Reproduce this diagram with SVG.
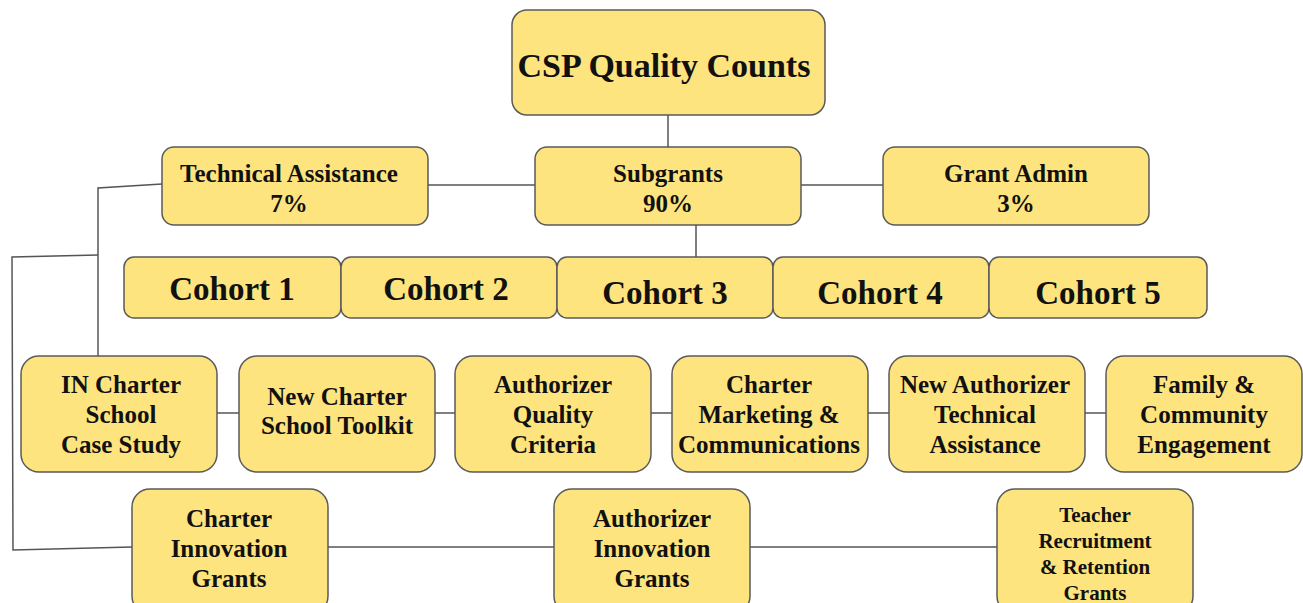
<svg xmlns="http://www.w3.org/2000/svg" width="1303" height="603" viewBox="0 0 1303 603">
  <style>
    .box { fill: #fde47f; stroke: #5a5a5a; stroke-width: 1.5; }
    .wire { fill: none; stroke: #555; stroke-width: 1.5; }
    text { font-family: "Liberation Serif", "DejaVu Serif", serif; font-weight: bold; fill: #111; text-anchor: middle; }
    .t1 { font-size: 34px; }
    .t2 { font-size: 25px; }
    .tc { font-size: 33px; }
    .t4 { font-size: 25px; }
    .t5 { font-size: 21px; }
  </style>
  <rect width="1303" height="603" fill="#ffffff"/>

  <!-- connectors -->
  <g id="connectors">
    <path class="wire" d="M668 115 V147"/>
    <path class="wire" d="M428 185 H535"/>
    <path class="wire" d="M801 185 H883"/>
    <path class="wire" d="M696 225 V257"/>
    <path class="wire" d="M162 184 L98 188 V356"/>
    <path class="wire" d="M98 255 L12 257 L13 550 L132 547"/>
    <path class="wire" d="M217 413 H239"/>
    <path class="wire" d="M435 413 H455"/>
    <path class="wire" d="M651 413 H672"/>
    <path class="wire" d="M868 413 H889"/>
    <path class="wire" d="M1085 413 H1106"/>
    <path class="wire" d="M328 547 H554"/>
    <path class="wire" d="M750 547 H997"/>
  </g>

  <g id="root">
    <rect class="box" x="512" y="10" width="313" height="105" rx="15"/>
    <text class="t1" x="664" y="77">CSP Quality Counts</text>
  </g>

  <g id="technical-assistance">
    <rect class="box" x="162" y="147" width="266" height="78" rx="12"/>
    <text class="t2" x="289" y="182">Technical Assistance</text>
    <text class="t2" x="289" y="212">7%</text>
  </g>
  <g id="subgrants">
    <rect class="box" x="535" y="147" width="266" height="78" rx="12"/>
    <text class="t2" x="668" y="182">Subgrants</text>
    <text class="t2" x="668" y="212">90%</text>
  </g>
  <g id="grant-admin">
    <rect class="box" x="883" y="147" width="266" height="78" rx="12"/>
    <text class="t2" x="1016" y="182">Grant Admin</text>
    <text class="t2" x="1016" y="212">3%</text>
  </g>

  <g id="cohort-1">
    <rect class="box" x="124" y="257" width="217" height="61" rx="10"/>
    <text class="tc" x="232" y="300">Cohort 1</text>
  </g>
  <g id="cohort-2">
    <rect class="box" x="341" y="257" width="216" height="61" rx="10"/>
    <text class="tc" x="446" y="300">Cohort 2</text>
  </g>
  <g id="cohort-3">
    <rect class="box" x="557" y="257" width="216" height="61" rx="10"/>
    <text class="tc" x="665" y="304">Cohort 3</text>
  </g>
  <g id="cohort-4">
    <rect class="box" x="773" y="257" width="216" height="61" rx="10"/>
    <text class="tc" x="880" y="304">Cohort 4</text>
  </g>
  <g id="cohort-5">
    <rect class="box" x="989" y="257" width="218" height="61" rx="10"/>
    <text class="tc" x="1098" y="304">Cohort 5</text>
  </g>

  <g id="case-study">
    <rect class="box" x="21" y="356" width="196" height="116" rx="18"/>
    <text class="t4" x="121" y="393">IN Charter</text>
    <text class="t4" x="121" y="423">School</text>
    <text class="t4" x="121" y="453">Case Study</text>
  </g>
  <g id="toolkit">
    <rect class="box" x="239" y="356" width="196" height="116" rx="18"/>
    <text class="t4" x="337" y="405">New Charter</text>
    <text class="t4" x="337" y="434">School Toolkit</text>
  </g>
  <g id="quality-criteria">
    <rect class="box" x="455" y="356" width="196" height="116" rx="18"/>
    <text class="t4" x="553" y="393">Authorizer</text>
    <text class="t4" x="553" y="423">Quality</text>
    <text class="t4" x="553" y="453">Criteria</text>
  </g>
  <g id="marketing">
    <rect class="box" x="672" y="356" width="196" height="116" rx="18"/>
    <text class="t4" x="769" y="393">Charter</text>
    <text class="t4" x="769" y="423">Marketing &amp;</text>
    <text class="t4" x="769" y="453">Communications</text>
  </g>
  <g id="authorizer-ta">
    <rect class="box" x="889" y="356" width="196" height="116" rx="18"/>
    <text class="t4" x="985" y="393">New Authorizer</text>
    <text class="t4" x="985" y="423">Technical</text>
    <text class="t4" x="985" y="453">Assistance</text>
  </g>
  <g id="family">
    <rect class="box" x="1106" y="356" width="196" height="116" rx="18"/>
    <text class="t4" x="1204" y="393">Family &amp;</text>
    <text class="t4" x="1204" y="423">Community</text>
    <text class="t4" x="1204" y="453">Engagement</text>
  </g>

  <g id="charter-innovation">
    <rect class="box" x="132" y="489" width="196" height="125" rx="18"/>
    <text class="t4" x="229" y="527">Charter</text>
    <text class="t4" x="229" y="557">Innovation</text>
    <text class="t4" x="229" y="587">Grants</text>
  </g>
  <g id="authorizer-innovation">
    <rect class="box" x="554" y="489" width="196" height="125" rx="18"/>
    <text class="t4" x="652" y="527">Authorizer</text>
    <text class="t4" x="652" y="557">Innovation</text>
    <text class="t4" x="652" y="587">Grants</text>
  </g>
  <g id="teacher-grants">
    <rect class="box" x="997" y="489" width="196" height="125" rx="18"/>
    <text class="t5" x="1095" y="522">Teacher</text>
    <text class="t5" x="1095" y="548">Recruitment</text>
    <text class="t5" x="1095" y="574">&amp; Retention</text>
    <text class="t5" x="1095" y="600">Grants</text>
  </g>
</svg>
